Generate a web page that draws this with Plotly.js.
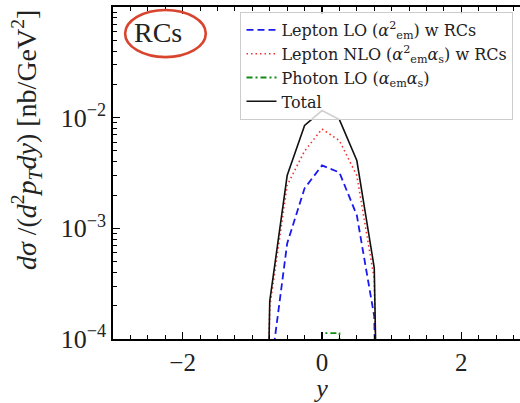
<!DOCTYPE html>
<html>
<head>
<meta charset="utf-8">
<script src="https://cdn.plot.ly/plotly-3.0.1.min.js"></script>
<style>
html,body{margin:0;padding:0;overflow:hidden;background:#fff;width:520px;height:403px;}
#chart{width:540px;height:403px;}
</style>
</head>
<body>
<div id="chart"></div>
<script>
// rapidity grid
const rapidity = [-1.0, -0.75, -0.5, -0.25, 0, 0.25, 0.5, 0.75, 1.0];
// cross sections [nb/GeV^2] (1e-12 ~ zero, off the log scale)
const leptonLO  = [1e-12, 4.5e-5, 7.3e-4, 2.3e-3, 3.7e-3, 3.2e-3, 1.31e-3, 1.6e-4, 1e-12];
const leptonNLO = [1e-12, 1.95e-4, 2.45e-3, 5.0e-3, 7.9e-3, 6.2e-3, 3.0e-3, 3.5e-4, 1e-12];
const photonLO  = [1e-12, 1e-12, 1e-12, 1e-12, 1.13e-4, 1.13e-4, 1e-12, 1e-12, 1e-12];
const total     = [1e-12, 2.2e-4, 3.0e-3, 8.5e-3, 1.16e-2, 9.6e-3, 4.1e-3, 4.4e-4, 1e-12];

const seriesNames = [
  'Lepton LO (<i>α</i><sup>2</sup><sub>em</sub>) w RCs',
  'Lepton NLO (<i>α</i><sup>2</sup><sub>em</sub><i>α</i><sub>s</sub>) w RCs',
  'Photon LO (<i>α</i><sub>em</sub><i>α</i><sub>s</sub>)',
  'Total'
];
const yTickVals = [1e-4, 1e-3, 1e-2, 1e-1];
const yTickText = ['10<sup>−4</sup>', '10<sup>−3</sup>', '10<sup>−2</sup>', '10<sup>−1</sup>'];
const xTickVals = [-2, 0, 2];
const xTickText = ['−2', '0', '2'];

const FONT = 'Liberation Serif, Times New Roman, serif';
const LFONT = 'DejaVu Serif, Liberation Serif, serif';
const TXT = '#222';

const traces = [
  {x: rapidity, y: leptonLO, name: seriesNames[0], mode: 'lines',
   line: {color: '#1a1aee', width: 1.8, dash: '7px,4px'}},
  {x: rapidity, y: leptonNLO, name: seriesNames[1], mode: 'lines',
   line: {color: '#f03030', width: 1.6, dash: '1.5px,3px'}},
  {x: rapidity, y: photonLO, name: seriesNames[2], mode: 'lines',
   line: {color: '#138a13', width: 1.8, dash: '6px,3px,2px,3px'}},
  {x: rapidity, y: total, name: seriesNames[3], mode: 'lines',
   line: {color: '#111', width: 1.6}}
];

const layout = {
  width: 540, height: 403,
  margin: {l: 113, r: 9, t: 7, b: 64},
  paper_bgcolor: '#fff', plot_bgcolor: '#fff',
  font: {family: FONT, color: TXT, size: 16},
  showlegend: true,
  legend: {
    x: 0.305, y: 0.985, xanchor: 'left', yanchor: 'top',
    bgcolor: 'rgba(255,255,255,0.8)', bordercolor: '#cccccc', borderwidth: 1,
    font: {family: LFONT, size: 16, color: TXT},
    itemwidth: 30, tracegroupgap: 0
  },
  xaxis: {
    range: [-3, 3], showgrid: false, zeroline: false,
    showline: true, linecolor: '#000', linewidth: 1.6, mirror: 'ticks',
    ticks: 'inside', ticklen: 7, tickwidth: 1.2, tickcolor: '#000',
    tickmode: 'array', tickvals: xTickVals, ticktext: xTickText,
    tickfont: {family: FONT, size: 25, color: TXT},
    minor: {ticks: 'inside', ticklen: 4, tickwidth: 1, tickcolor: '#000', dtick: 0.25, tick0: 0, showgrid: false},
    title: {text: '<i>y</i>', font: {family: FONT, size: 26, color: TXT}, standoff: 10}
  },
  yaxis: {
    type: 'log', range: [-4, -1], showgrid: false, zeroline: false,
    showline: true, linecolor: '#000', linewidth: 1.6, mirror: 'ticks',
    ticks: 'inside', ticklen: 7, tickwidth: 1.2, tickcolor: '#000',
    tickmode: 'array', tickvals: yTickVals, ticktext: yTickText,
    tickfont: {family: FONT, size: 26, color: TXT},
    minor: {ticks: 'inside', ticklen: 4, tickwidth: 1, tickcolor: '#000', dtick: 'D1', showgrid: false}
  },
  annotations: [
    {text: '<i>dσ</i> /(<i>d</i><sup>2</sup><i>p<sub>T</sub>dy</i>) [nb/GeV<sup>2</sup>]',
     xref: 'paper', yref: 'paper', x: -0.205, y: 0.60, xanchor: 'center', yanchor: 'middle',
     textangle: -90, showarrow: false, font: {family: FONT, size: 28, color: TXT}},
    {text: 'RCs', xref: 'paper', yref: 'paper', x: 0.107, y: 0.922,
     xanchor: 'center', yanchor: 'middle', showarrow: false,
     font: {family: FONT, size: 28, color: TXT}}
  ],
  shapes: [
    {type: 'circle', xref: 'paper', yref: 'paper', x0: 0.029, x1: 0.222, y0: 0.849, y1: 0.991,
     line: {color: '#d9442e', width: 2.6}}
  ]
};

Plotly.newPlot('chart', traces, layout, {staticPlot: true, displayModeBar: false});
</script>
</body>
</html>
